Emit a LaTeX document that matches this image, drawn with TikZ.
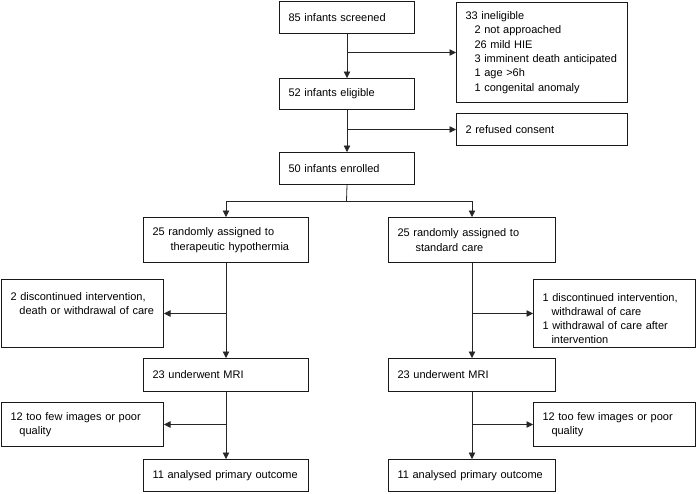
\documentclass[tikz,border=0pt]{standalone}
\usepackage{fontspec}
\setmainfont{Liberation Sans}
\usetikzlibrary{arrows.meta}
\tikzset{
  box/.style={draw=black!90, line width=1pt, anchor=north west, inner xsep=9pt, inner ysep=0pt,
    align=left, font=\fontsize{11}{14.4}\selectfont},
  arr/.style={draw=black!85, line width=0.8pt, -{Triangle[width=6.5pt,length=6.5pt]}},
  ln/.style={draw=black!85, line width=0.8pt}
}
\begin{document}
\begin{tikzpicture}[x=1pt,y=-1pt]
\useasboundingbox (0,0) rectangle (696,493);
% top column
\node[box, text width=117pt, minimum height=32pt] (a) at (279,1) {85 infants screened};
\node[box, text width=153pt, minimum height=100pt] (b) at (456,2) {33 ineligible\\\hspace*{9pt}2 not approached\\\hspace*{9pt}26 mild HIE\\\hspace*{9pt}3 imminent death anticipated\\\hspace*{9pt}1 age >6h\\\hspace*{9pt}1 congenital anomaly};
\node[box, text width=117pt, minimum height=31pt] (c) at (279,78) {52 infants eligible};
\node[box, text width=153pt, minimum height=32pt] (d) at (456,113) {2 refused consent};
\node[box, text width=117pt, minimum height=32pt] (e) at (279,152) {50 infants enrolled};
% arms
\node[box, text width=147pt, minimum height=45pt] (f) at (143,217) {25 randomly assigned to\\\hspace*{18pt}therapeutic hypothermia};
\node[box, text width=149pt, minimum height=45pt] (g) at (388,217) {25 randomly assigned to\\\hspace*{18pt}standard care};
\node[box, text width=144pt, minimum height=68pt] (h) at (1,279) {2 discontinued intervention,\\\hspace*{9pt}death or withdrawal of care\\[6pt]\mbox{}};
\node[box, text width=144pt, minimum height=68pt, font=\fontsize{11}{13.8}\selectfont] (i) at (533,279) {\rule{0pt}{18pt}1 discontinued intervention,\\\hspace*{9pt}withdrawal of care\\1 withdrawal of care after\\\hspace*{9pt}intervention};
\node[box, text width=147pt, minimum height=33pt] (jl) at (143,358) {23 underwent MRI};
\node[box, text width=149pt, minimum height=33pt] (jr) at (388,358) {23 underwent MRI};
\node[box, text width=144pt, minimum height=44pt] (kl) at (1,402) {12 too few images or poor\\\hspace*{9pt}quality};
\node[box, text width=144pt, minimum height=44pt] (kr) at (533,402) {12 too few images or poor\\\hspace*{9pt}quality};
\node[box, text width=147pt, minimum height=32pt] (ll) at (143,459) {11 analysed primary outcome};
\node[box, text width=149pt, minimum height=32pt] (lr) at (388,459) {11 analysed primary outcome};
% connectors
\draw[arr] (a.south) -- (c.north);
\draw[arr] (a.south |- b.west) -- (b.west);
\draw[arr] (c.south) -- (e.north);
\draw[arr] (c.south |- d.west) -- (d.west);
\coordinate (sp) at (346.5,201);
\draw[ln] (e.south) -- (sp);
\draw[arr] (sp) -| (f.north);
\draw[arr] (sp) -| (g.north);
\draw[arr] (f.south) -- (jl.north);
\draw[arr] (f.south |- h.east) -- (h.east);
\draw[arr] (g.south) -- (jr.north);
\draw[arr] (g.south |- i.west) -- (i.west);
\draw[arr] (jl.south) -- (ll.north);
\draw[arr] (jl.south |- kl.east) -- (kl.east);
\draw[arr] (jr.south) -- (lr.north);
\draw[arr] (jr.south |- kr.west) -- (kr.west);
\end{tikzpicture}
\end{document}
